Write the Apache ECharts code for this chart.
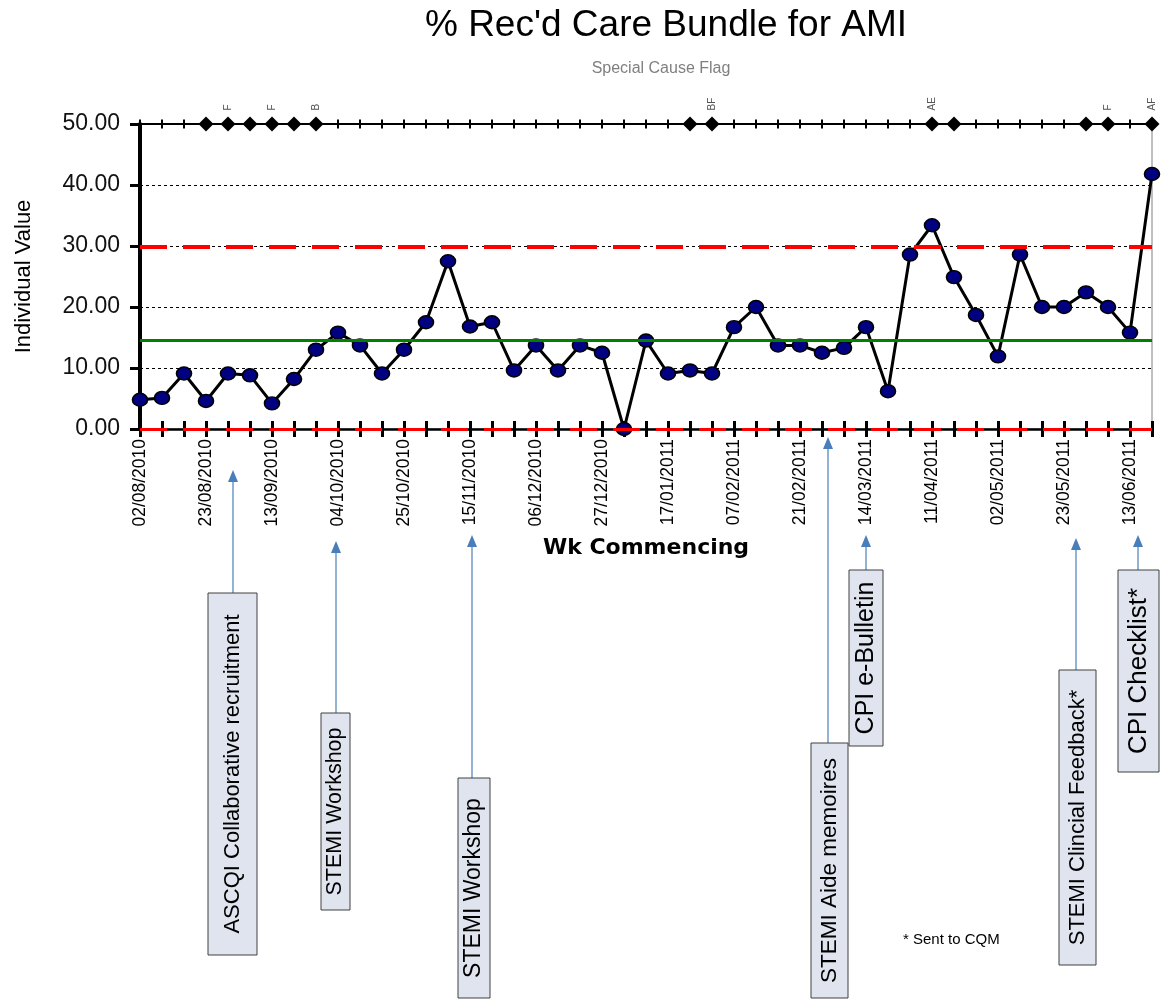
<!DOCTYPE html>
<html><head><meta charset="utf-8">
<script src="https://cdn.jsdelivr.net/npm/echarts/dist/echarts.min.js"></script>
<style>html,body{margin:0;padding:0;background:#fff}#c{width:1173px;height:1002px}</style>
</head><body><div id="c"></div>
<script>
const categories = [
 '02/08/2010','09/08/2010','16/08/2010','23/08/2010','30/08/2010','06/09/2010','13/09/2010','20/09/2010','27/09/2010',
 '04/10/2010','11/10/2010','18/10/2010','25/10/2010','01/11/2010','08/11/2010','15/11/2010','22/11/2010','29/11/2010',
 '06/12/2010','13/12/2010','20/12/2010','27/12/2010','03/01/2011','10/01/2011','17/01/2011','24/01/2011','31/01/2011',
 '07/02/2011','14/02/2011','17/02/2011','21/02/2011','28/02/2011','07/03/2011','14/03/2011','21/03/2011','28/03/2011',
 '11/04/2011','18/04/2011','25/04/2011','02/05/2011','09/05/2011','16/05/2011','23/05/2011','30/05/2011','06/06/2011',
 '13/06/2011','20/06/2011'];
const values = [4.8,5.1,9.1,4.6,9.1,8.8,4.2,8.2,13.0,15.8,
 13.7,9.1,13.0,17.5,27.5,16.8,17.5,9.6,13.7,9.6,
 13.7,12.5,0,14.5,9.1,9.6,9.1,16.7,20.0,13.7,
 13.7,12.5,13.3,16.7,6.2,28.6,33.4,24.9,18.7,11.9,
 28.6,20.0,20.0,22.4,20.0,15.8,41.8];
const meanValue = 14.6;
const uclValue = 29.8;
const lclValue = 0;
const flagLevel = 50;
const flaggedIndices = [3,4,5,6,7,8,25,26,36,37,43,44,46];
const flagTexts = {4:'F',6:'F',8:'B',26:'BF',36:'AE',44:'F',46:'AF'};

const annotations = [
 {text:'ASCQI Collaborative recruitment', size:22, box:[208,593,257,955], ax:233, tip:470},
 {text:'STEMI Workshop', size:21.5, box:[321,713,350,910], ax:336, tip:541},
 {text:'STEMI Workshop', size:23, box:[458,778,490,998], ax:472, tip:535},
 {text:'STEMI Aide memoires', size:22.5, box:[811,743,848,998], ax:828, tip:437},
 {text:'CPI e-Bulletin', size:25, box:[849,570,883,746], ax:866, tip:535},
 {text:'STEMI Clincial Feedback*', size:22, box:[1059,670,1096,965], ax:1076, tip:538},
 {text:'CPI Checklist*', size:26, box:[1118,570,1159,772], ax:1138, tip:535}
];

const FONT = '"Liberation Sans", Arial, sans-serif';
const graphics = [];
annotations.forEach(a => {
  const [x0,y0,x1,y1] = a.box;
  graphics.push({type:'line', z:10, shape:{x1:a.ax,y1:y0,x2:a.ax,y2:a.tip+10}, style:{stroke:'#4a7ebb', lineWidth:1.2}});
  graphics.push({type:'polygon', z:10, shape:{points:[[a.ax-5,a.tip+12],[a.ax+5,a.tip+12],[a.ax,a.tip]]}, style:{fill:'#4a7ebb'}});
  graphics.push({type:'rect', z:11, shape:{x:x0,y:y0,width:x1-x0,height:y1-y0}, style:{fill:'#dfe4ee', stroke:'#404040', lineWidth:1}});
  graphics.push({type:'text', z:12, x:(x0+x1)/2, y:(y0+y1)/2, rotation:Math.PI/2,
    style:{text:a.text, font:a.size+'px ' + FONT, fill:'#000', textAlign:'center', textVerticalAlign:'middle', align:'center', verticalAlign:'middle'}});
});
graphics.push({type:'text', z:12, x:903, y:940, style:{text:'* Sent to CQM', font:'15px ' + FONT, fill:'#000', textVerticalAlign:'middle', verticalAlign:'middle'}});

const flagData = categories.map((c,i) => {
  if (flaggedIndices.includes(i)) {
    const t = flagTexts[i];
    return {value:flagLevel, symbol:'diamond', symbolSize:[15,15],
      label:{show:!!t, formatter:t||''}};
  }
  return {value:flagLevel, symbol:'rect', symbolSize:[2,9]};
});

const chart = echarts.init(document.getElementById('c'), null, {renderer:'canvas'});
chart.setOption({
  animation:false,
  backgroundColor:'#fff',
  title:[
    {text:"% Rec'd Care Bundle for AMI", left:661, top:2, textAlign:'center',
     textStyle:{fontSize:37, fontWeight:'normal', color:'#000', fontFamily:FONT}},
    {text:'Special Cause Flag', left:656, top:56, textAlign:'center',
     textStyle:{fontSize:16, fontWeight:'normal', color:'#808080', fontFamily:FONT}}
  ],
  grid:{left:140, right:21, top:124, bottom:573, show:true, borderColor:'#808080', borderWidth:1, containLabel:false},
  xAxis:[
    {type:'category', data:categories, boundaryGap:false,
     name:'Wk Commencing', nameLocation:'middle', nameGap:108,
     nameTextStyle:{fontSize:22, fontWeight:'bold', color:'#000', fontFamily:'"DejaVu Sans", sans-serif'},
     axisLine:{lineStyle:{color:'#000', width:2.5}},
     axisTick:{show:true, interval:0, length:8, lineStyle:{color:'#000', width:3}},
     axisLabel:{interval:2, rotate:90, fontSize:17.5, color:'#000', margin:10, fontFamily:FONT},
     splitLine:{show:false}},
    {type:'category', data:categories, boundaryGap:false, position:'bottom',
     axisLine:{show:false},
     axisTick:{show:true, inside:true, interval:0, length:8, lineStyle:{color:'#000', width:3}},
     axisLabel:{show:false}, splitLine:{show:false}}
  ],
  yAxis:{type:'value', min:0, max:50, interval:10,
    name:'Individual Value', nameLocation:'middle', nameGap:105, nameRotate:90,
    nameTextStyle:{fontSize:22, color:'#000', fontFamily:FONT},
    axisLine:{show:true, lineStyle:{color:'#000', width:4}},
    axisTick:{show:true, length:10, lineStyle:{color:'#000', width:3}},
    axisLabel:{fontSize:23, color:'#111', margin:20, fontFamily:FONT,
      formatter:v => v.toFixed(2)},
    splitLine:{show:true, lineStyle:{color:'#000', width:1, type:[3,3]}}
  },
  series:[
    {type:'line', data:[], z:1, silent:true,
     markLine:{symbol:'none', silent:true, label:{show:false}, animation:false,
       data:[
         {yAxis:uclValue, lineStyle:{color:'#ff0000', width:4, type:[27,16]}},
         {yAxis:lclValue, lineStyle:{color:'#ff0000', width:3, type:[27,16]}},
         {yAxis:meanValue, lineStyle:{color:'#008000', width:3, type:'solid'}}
       ]}},
    {type:'line', data:flagData, z:3, clip:false, showAllSymbol:true,
     lineStyle:{color:'#000', width:2},
     itemStyle:{color:'#000'},
     label:{show:false, position:'top', distance:6, rotate:90, align:'left', verticalAlign:'middle',
       fontSize:10, color:'#555', fontFamily:FONT}},
    {type:'line', data:values, z:4, clip:false,
     lineStyle:{color:'#000', width:3},
     symbol:'circle', symbolSize:[15,13], showAllSymbol:true,
     itemStyle:{color:'#000080', borderColor:'#000', borderWidth:1.5}}
  ],
  graphic:graphics
});
</script></body></html>
